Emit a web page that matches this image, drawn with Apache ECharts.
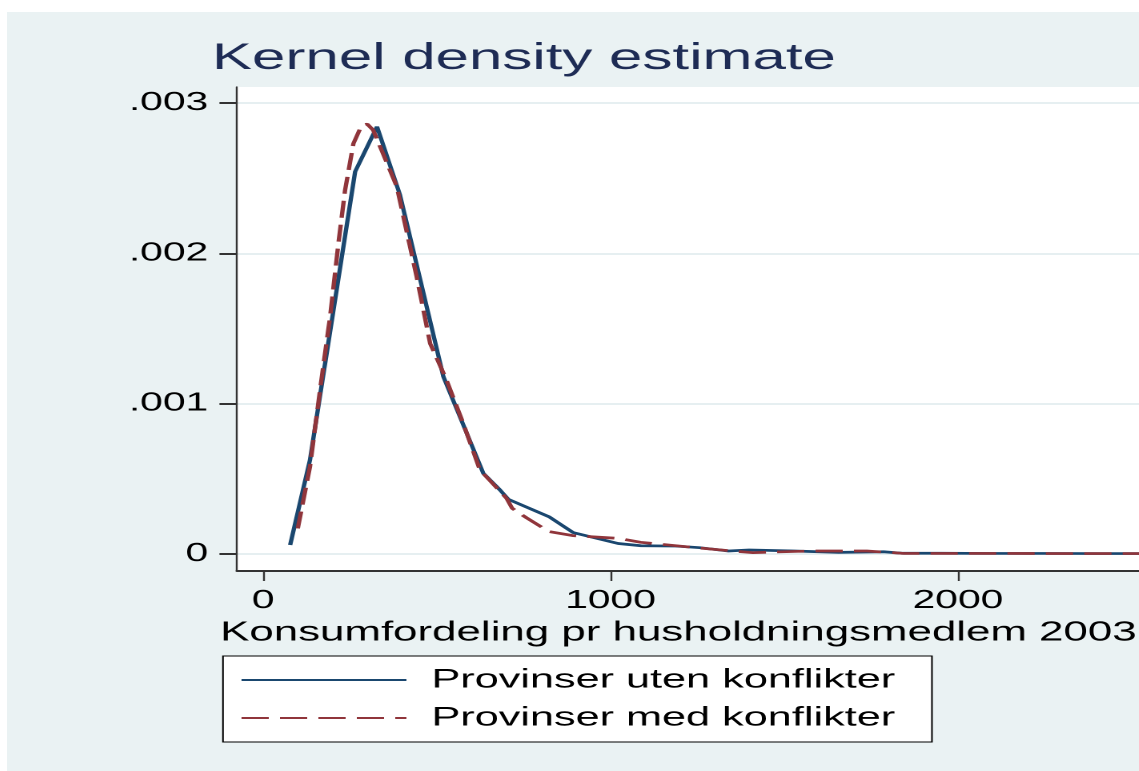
<!DOCTYPE html>
<html>
<head>
<meta charset="utf-8">
<title>Kernel density estimate</title>
<script src="https://cdn.jsdelivr.net/npm/echarts@6/dist/echarts.min.js"></script>
<style>
html, body { margin: 0; padding: 0; background: #fff; width: 1139px; height: 771px; overflow: hidden; }
/* the reference is a horizontally stretched graph, so the chart is drawn narrow and stretched */
#main { position: absolute; left: 7px; top: 12px; width: 707px; height: 759px; transform: scaleX(1.601); transform-origin: 0 0; }
</style>
</head>
<body>
<div id="main"></div>
<script>
// Konsumfordeling (x) og tetthet (y) for hver gruppe
var seriesNames = ['Provinser uten konflikter', 'Provinser med konflikter'];

var utenX = [78, 135, 265, 328, 394, 519, 634, 682, 706, 823, 893, 1022, 1088, 1187, 1257, 1340, 1399, 1528, 1657, 1786, 1839, 1950, 2100, 2250, 2400, 2550];
var utenY = [0.00006, 0.000625, 0.002544, 0.002843, 0.00239, 0.00118, 0.000537, 0.000426, 0.000364, 0.000248, 0.000142, 0.00007, 0.000055, 0.000053, 0.000042, 0.00002, 0.000027, 0.00002, 0.000011, 0.000015, 0.000005, 0.000005, 0.000004, 0.000004, 0.000003, 0.000003];

var medX = [100, 135, 164, 193, 217, 236, 260, 284, 300, 317, 385, 442, 481, 528, 576, 624, 701, 717, 759, 823, 893, 1023, 1087, 1246, 1352, 1410, 1574, 1738, 1845, 1950, 2100, 2250, 2400, 2550];
var medY = [0.00017, 0.00058, 0.00109, 0.00158, 0.00207, 0.00242, 0.00273, 0.002854, 0.00286, 0.00282, 0.002444, 0.001845, 0.0014, 0.001158, 0.00087, 0.00056, 0.00037, 0.000304, 0.00024, 0.000149, 0.000122, 0.000104, 0.000078, 0.000042, 0.00002, 0.000009, 0.00002, 0.00002, 0.000004, 0.000004, 0.000004, 0.000003, 0.000003, 0.000003];

// akser
var xTicks = [0, 1000, 2000];
var yTicks = [0, 0.001, 0.002, 0.003];
var yTickLabels = ['0', '.001', '.002', '.003'];

var font = '"Liberation Sans", Arial, Helvetica, sans-serif';

function pairs(xs, ys) {
    var out = [];
    for (var i = 0; i < xs.length; i++) out.push([xs[i], ys[i]]);
    return out;
}

var myChart = echarts.init(document.getElementById('main'), null, { devicePixelRatio: 2 });

var option = {
    backgroundColor: '#eaf2f3',
    animation: false,
    title: {
        text: 'Kernel density estimate',
        left: 128,
        top: 28,
        padding: 0,
        textStyle: { color: '#1e2c55', fontSize: 37.5, fontWeight: 'normal', fontFamily: font, lineHeight: 37.5 }
    },
    grid: {
        left: 143.7,
        right: 0,
        top: 75,
        bottom: 200,
        show: true,
        backgroundColor: '#fff',
        borderWidth: 0,
        containLabel: false,
        outerBoundsMode: 'none'
    },
    legend: {
        orient: 'vertical',
        left: 134.9,
        top: 644,
        padding: [10.5, 23, 10.5, 10.6],
        itemWidth: 103,
        itemHeight: 14,
        itemGap: 11,
        backgroundColor: '#fff',
        borderColor: '#000',
        borderWidth: 1,
        borderRadius: 0,
        selectedMode: false,
        itemStyle: { opacity: 0 },
        textStyle: { color: '#000', fontSize: 27, fontFamily: font, lineHeight: 27, padding: [0, 0, 0, 10.6] },
        data: seriesNames
    },
    xAxis: {
        type: 'value',
        min: -74.8,
        max: 2521,
        name: 'Konsumfordeling pr husholdningsmedlem 2003',
        nameLocation: 'middle',
        nameGap: 48.5,
        nameTextStyle: { color: '#000', fontSize: 27.4, fontFamily: font, lineHeight: 27, padding: [0, 12, 0, 0] },
        axisLine: { show: true, onZero: false, lineStyle: { color: '#333', width: 2 } },
        axisTick: { show: true, customValues: xTicks, length: 10, lineStyle: { color: '#333', width: 1.2 } },
        axisLabel: {
            customValues: xTicks,
            margin: 17,
            color: '#000',
            fontSize: 25.5,
            fontFamily: font,
            formatter: function (v) { return String(Math.round(v)); }
        },
        splitLine: { show: false }
    },
    yAxis: {
        type: 'value',
        min: -0.000113,
        max: 0.003107,
        axisLine: { show: true, onZero: false, lineStyle: { color: '#333', width: 1.2 } },
        axisTick: { show: true, customValues: yTicks, length: 11, lineStyle: { color: '#333', width: 2 } },
        axisLabel: {
            customValues: yTicks,
            margin: 18,
            color: '#000',
            fontSize: 25.5,
            fontFamily: font,
            formatter: function (v) {
                for (var i = 0; i < yTicks.length; i++) {
                    if (Math.abs(v - yTicks[i]) < 1e-9) return yTickLabels[i];
                }
                return '';
            }
        },
        splitLine: { show: true, lineStyle: { color: '#e6eff1', width: 2 } }
    },
    series: [
        {
            name: seriesNames[0],
            type: 'line',
            symbol: 'none',
            data: pairs(utenX, utenY),
            lineStyle: { color: '#1a476f', width: 2.7 },
            itemStyle: { color: '#1a476f' }
        },
        {
            name: seriesNames[1],
            type: 'line',
            symbol: 'none',
            data: pairs(medX, medY),
            lineStyle: { color: '#90353b', width: 2.7, type: [17, 7] },
            itemStyle: { color: '#90353b' }
        }
    ]
};
myChart.setOption(option);
</script>
</body>
</html>
